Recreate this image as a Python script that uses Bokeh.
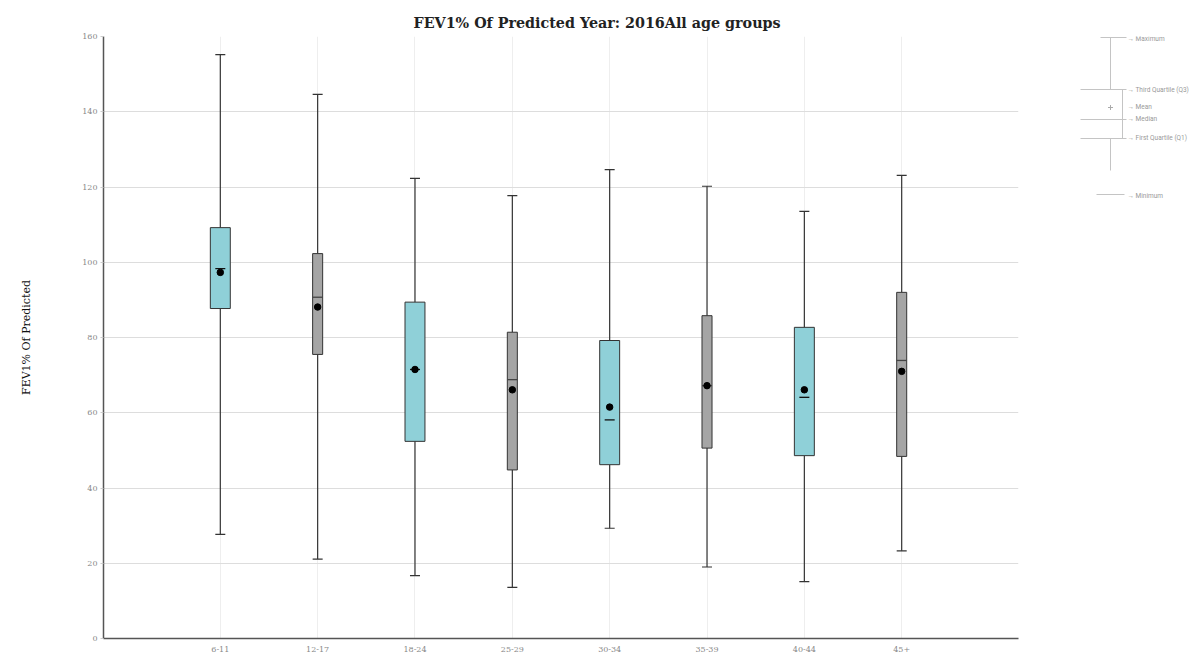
from bokeh.plotting import figure
from bokeh.layouts import row
from bokeh.models import Range1d, FixedTicker, ColumnDataSource
from bokeh.embed import file_html
from bokeh.resources import INLINE
from bokeh.core.properties import value

categories = ["6-11", "12-17", "18-24", "25-29", "30-34", "35-39", "40-44", "45+"]
maximum = [155.2, 144.6, 122.3, 117.7, 124.6, 120.2, 113.5, 123.1]
q3 = [109.2, 102.3, 89.4, 81.4, 79.2, 85.8, 82.7, 92.0]
median = [98.3, 90.7, 71.5, 68.8, 58.1, 67.2, 64.1, 73.9]
mean = [97.3, 88.1, 71.5, 66.1, 61.5, 67.2, 66.1, 71.0]
q1 = [87.7, 75.5, 52.4, 44.8, 46.2, 50.6, 48.6, 48.4]
minimum = [27.7, 21.1, 16.7, 13.6, 29.3, 19.0, 15.1, 23.3]
y_ticks = [0, 20, 40, 60, 80, 100, 120, 140, 160]

TEAL = "#8fd0d8"
GREY = "#a5a5a5"
SERIF = "DejaVu Serif"

xs = list(range(1, len(categories) + 1))
colors = [TEAL if i % 2 == 0 else GREY for i in range(len(categories))]
widths = [0.205 if i % 2 == 0 else 0.103 for i in range(len(categories))]
med_colors = ["#111111" if i % 2 == 0 else "#444444" for i in range(len(categories))]

src = ColumnDataSource(dict(x=xs, maximum=maximum, q3=q3, median=median, mean=mean,
                            q1=q1, minimum=minimum, color=colors, width=widths,
                            med_color=med_colors))

TOP, BOTTOM, LEFT, RIGHT = 36, 18, 103, 10
FW, FH = 915, 602

p = figure(frame_width=FW, frame_height=FH, output_backend="svg", toolbar_location=None,
           x_range=Range1d(-0.2, 9.2), y_range=Range1d(0, 160),
           min_border_left=LEFT, min_border_right=RIGHT, min_border_top=TOP,
           min_border_bottom=BOTTOM)
p.outline_line_color = None
p.background_fill_color = "white"

p.title.text = "FEV1% Of Predicted Year: 2016All age groups"
p.title.text_font = SERIF
p.title.text_font_size = "14.3px"
p.title.text_font_style = "bold"
p.title.text_color = "#222222"
p.title.align = "left"
p.title.offset = 310
p.title.standoff = 12

# axes
p.yaxis.ticker = FixedTicker(ticks=y_ticks)
p.yaxis.axis_label = "FEV1% Of Predicted"
p.yaxis.axis_label_text_font = SERIF
p.yaxis.axis_label_text_font_size = "11px"
p.yaxis.axis_label_text_font_style = "normal"
p.yaxis.axis_label_text_color = "#111111"
p.yaxis.axis_label_standoff = 46
p.yaxis.major_label_text_font = SERIF
p.yaxis.major_label_text_font_size = "8px"
p.yaxis.major_label_text_color = "#888888"
p.yaxis.axis_line_color = "#555555"
p.yaxis.axis_line_width = 1.5
p.yaxis.major_tick_line_color = "#cccccc"
p.yaxis.major_tick_out = 3
p.yaxis.major_tick_in = 0
p.yaxis.minor_tick_line_color = None
p.yaxis.major_label_standoff = 3

p.xaxis.ticker = FixedTicker(ticks=xs)
p.xaxis.major_label_overrides = {x: c for x, c in zip(xs, categories)}
p.xaxis.major_label_text_font = SERIF
p.xaxis.major_label_text_font_size = "8px"
p.xaxis.major_label_text_color = "#888888"
p.xaxis.axis_line_color = "#555555"
p.xaxis.axis_line_width = 1.5
p.xaxis.major_tick_line_color = None
p.xaxis.minor_tick_line_color = None
p.xaxis.major_label_standoff = 2

p.ygrid.grid_line_color = "#dddddd"
p.xgrid.grid_line_color = "#eeeeee"

# whiskers
p.segment(x0="x", y0="q3", x1="x", y1="maximum", source=src, line_color="#333333", line_width=1.2)
p.segment(x0="x", y0="q1", x1="x", y1="minimum", source=src, line_color="#333333", line_width=1.2)
p.scatter(x="x", y="maximum", source=src, marker="dash", size=10, line_color="#333333", line_width=1.2)
p.scatter(x="x", y="minimum", source=src, marker="dash", size=10, line_color="#333333", line_width=1.2)

# boxes
p.vbar(x="x", width="width", bottom="q1", top="q3", source=src, fill_color="color",
       line_color="#333333", line_width=1)

# median and mean
p.scatter(x="x", y="median", source=src, marker="dash", size=10, line_color="med_color", line_width=1.3)
p.scatter(x="x", y="mean", source=src, marker="circle", size=6.5, fill_color="black", line_color="black")

# ---- legend schematic (right); its frame is aligned with the main frame ----
ox = LEFT + FW + RIGHT
LW = 1190 - ox
lg = figure(title=None, frame_width=LW, frame_height=FH, output_backend="svg",
            toolbar_location=None,
            x_range=Range1d(0, LW), y_range=Range1d(FH, 0),
            x_axis_location=None, y_axis_location=None,
            min_border=0, min_border_left=0, min_border_right=0,
            min_border_top=0, min_border_bottom=0)
lg.outline_line_color = None
lg.xgrid.visible = False
lg.ygrid.visible = False
LC = "#c4c4c4"
cx = 1110 - ox


def sy(v):
    return max(v - TOP, 1)


# caps and whisker
lg.segment(x0=[1100 - ox, cx, cx, 1096 - ox], y0=[sy(35), sy(35), sy(138), sy(194)],
           x1=[1126 - ox, cx, cx, 1124 - ox], y1=[sy(35), sy(89), sy(170), sy(194)],
           line_color=LC, line_width=1)
# box
lg.segment(x0=[1080 - ox, 1080 - ox, 1080 - ox, 1122 - ox],
           y0=[sy(89), sy(119), sy(138), sy(89)],
           x1=[1126 - ox, 1126 - ox, 1126 - ox, 1122 - ox],
           y1=[sy(89), sy(119), sy(138), sy(138)],
           line_color=LC, line_width=1)
lg.scatter(x=[cx], y=[sy(107)], marker="cross", size=5, line_color="#aaaaaa")
labels = ["\u2192 Maximum", "\u2192 Third Quartile (Q3)", "\u2192 Mean", "\u2192 Median",
          "\u2192 First Quartile (Q1)", "\u2192 Minimum"]
ly = [38, 89, 106, 118, 137, 195]
lg.text(x=[1127 - ox] * len(labels), y=[sy(v) for v in ly], text=labels,
        text_font=value("Roboto"), text_font_size="6.5px", text_color="#999999",
        text_baseline="middle", text_align="left")

layout = row(p, lg)
open("out.html", "w").write(file_html(layout, INLINE))
